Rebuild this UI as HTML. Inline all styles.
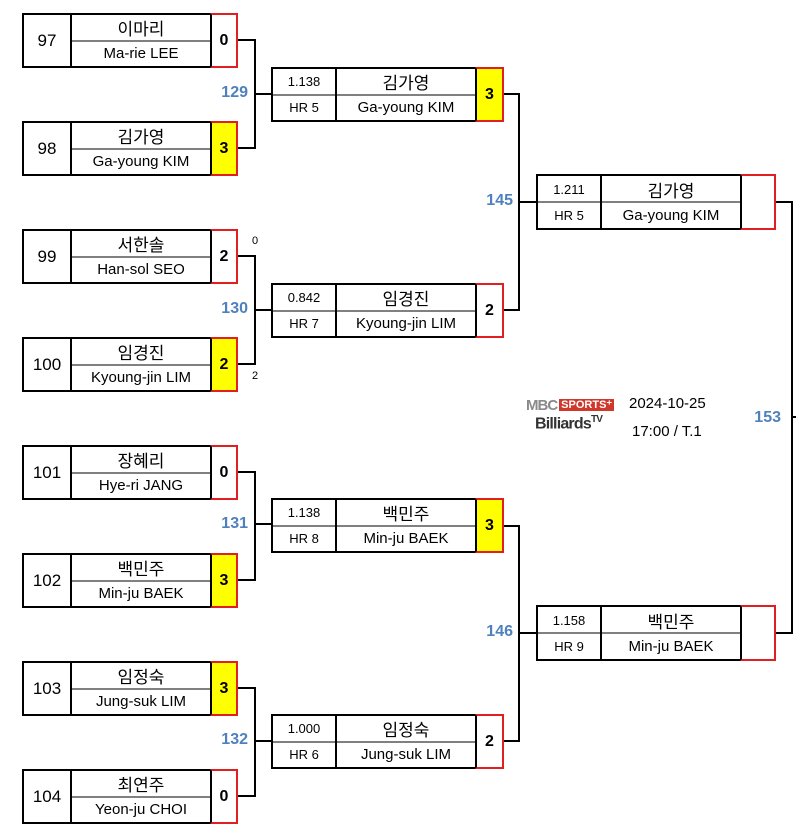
<!DOCTYPE html>
<html><head><meta charset="utf-8"><style>
*{box-sizing:border-box;margin:0;padding:0}
body{width:796px;height:827px;background:#fff;position:relative;overflow:hidden;font-family:"Liberation Sans","Noto Sans CJK KR",sans-serif;color:#000}
.a{position:absolute}
.box{position:absolute;border:2px solid #000;background:#fff}
.num{position:absolute;left:0;top:0;bottom:0;width:48px;border-right:2px solid #000;display:flex;align-items:center;justify-content:center;font-size:17px}
.nm{position:absolute;top:0;bottom:0;right:0;}
.nm .k,.nm .e,.st .k,.st .e{position:absolute;left:0;right:0;height:50%;display:flex;align-items:center;justify-content:center}
.k{top:0;font-size:17px}
.e{bottom:0;font-size:15px}
.div{position:absolute;left:0;right:0;top:50%;height:2px;margin-top:-1px;background:#808080}
.st{position:absolute;left:0;top:0;bottom:0;width:64px;border-right:2px solid #000}
.st .k,.st .e{font-size:13px}
.sc{position:absolute;border:2px solid #e02020;border-left:none;display:flex;align-items:center;justify-content:center;font-weight:bold;font-size:16px}
.y{background:#ffff00}
.h{position:absolute;height:2px;background:#000}
.v{position:absolute;width:2px;background:#000}
.lb{position:absolute;color:#4f81bd;font-weight:bold;font-size:16px;width:40px;text-align:right}
.sm{position:absolute;font-size:11px}
</style></head><body>

<div class="box" style="left:22px;top:13px;width:190px;height:55px"><div class="num">97</div><div class="nm" style="left:48px"><div class="div"></div><div class="k">이마리</div><div class="e">Ma-rie LEE</div></div></div>
<div class="sc" style="left:210px;top:13px;width:28px;height:55px;border-left:2px solid #000">0</div>

<div class="box" style="left:22px;top:121px;width:190px;height:55px"><div class="num">98</div><div class="nm" style="left:48px"><div class="div"></div><div class="k">김가영</div><div class="e">Ga-young KIM</div></div></div>
<div class="sc y" style="left:210px;top:121px;width:28px;height:55px;border-left:2px solid #000">3</div>

<div class="box" style="left:22px;top:229px;width:190px;height:55px"><div class="num">99</div><div class="nm" style="left:48px"><div class="div"></div><div class="k">서한솔</div><div class="e">Han-sol SEO</div></div></div>
<div class="sc" style="left:210px;top:229px;width:28px;height:55px;border-left:2px solid #000">2</div>

<div class="box" style="left:22px;top:337px;width:190px;height:55px"><div class="num">100</div><div class="nm" style="left:48px"><div class="div"></div><div class="k">임경진</div><div class="e">Kyoung-jin LIM</div></div></div>
<div class="sc y" style="left:210px;top:337px;width:28px;height:55px;border-left:2px solid #000">2</div>

<div class="box" style="left:22px;top:445px;width:190px;height:55px"><div class="num">101</div><div class="nm" style="left:48px"><div class="div"></div><div class="k">장혜리</div><div class="e">Hye-ri JANG</div></div></div>
<div class="sc" style="left:210px;top:445px;width:28px;height:55px;border-left:2px solid #000">0</div>

<div class="box" style="left:22px;top:553px;width:190px;height:55px"><div class="num">102</div><div class="nm" style="left:48px"><div class="div"></div><div class="k">백민주</div><div class="e">Min-ju BAEK</div></div></div>
<div class="sc y" style="left:210px;top:553px;width:28px;height:55px;border-left:2px solid #000">3</div>

<div class="box" style="left:22px;top:661px;width:190px;height:55px"><div class="num">103</div><div class="nm" style="left:48px"><div class="div"></div><div class="k">임정숙</div><div class="e">Jung-suk LIM</div></div></div>
<div class="sc y" style="left:210px;top:661px;width:28px;height:55px;border-left:2px solid #000">3</div>

<div class="box" style="left:22px;top:769px;width:190px;height:55px"><div class="num">104</div><div class="nm" style="left:48px"><div class="div"></div><div class="k">최연주</div><div class="e">Yeon-ju CHOI</div></div></div>
<div class="sc" style="left:210px;top:769px;width:28px;height:55px;border-left:2px solid #000">0</div>

<div class="h" style="left:238px;top:39px;width:18px"></div><div class="h" style="left:238px;top:147px;width:18px"></div><div class="v" style="left:254px;top:39px;height:110px"></div><div class="h" style="left:254px;top:93px;width:18px"></div>
<div class="h" style="left:238px;top:255px;width:18px"></div><div class="h" style="left:238px;top:363px;width:18px"></div><div class="v" style="left:254px;top:255px;height:110px"></div><div class="h" style="left:254px;top:309px;width:18px"></div>
<div class="h" style="left:238px;top:471px;width:18px"></div><div class="h" style="left:238px;top:579px;width:18px"></div><div class="v" style="left:254px;top:471px;height:110px"></div><div class="h" style="left:254px;top:523px;width:18px"></div>
<div class="h" style="left:238px;top:687px;width:18px"></div><div class="h" style="left:238px;top:795px;width:18px"></div><div class="v" style="left:254px;top:687px;height:110px"></div><div class="h" style="left:254px;top:740px;width:18px"></div>

<div class="lb" style="left:208px;top:84px">129</div>
<div class="lb" style="left:208px;top:300px">130</div>
<div class="lb" style="left:208px;top:515px">131</div>
<div class="lb" style="left:208px;top:731px">132</div>
<div class="sm" style="left:252px;top:235px">0</div>
<div class="sm" style="left:252px;top:370px">2</div>

<div class="box" style="left:271px;top:67px;width:206px;height:55px"><div class="div"></div><div class="st"><div class="k">1.138</div><div class="e">HR 5</div></div><div class="nm" style="left:64px"><div class="k">김가영</div><div class="e">Ga-young KIM</div></div></div>
<div class="sc y" style="left:475px;top:67px;width:29px;height:55px;border-left:2px solid #000">3</div>

<div class="box" style="left:271px;top:283px;width:206px;height:55px"><div class="div"></div><div class="st"><div class="k">0.842</div><div class="e">HR 7</div></div><div class="nm" style="left:64px"><div class="k">임경진</div><div class="e">Kyoung-jin LIM</div></div></div>
<div class="sc" style="left:475px;top:283px;width:29px;height:55px;border-left:2px solid #000">2</div>

<div class="box" style="left:271px;top:498px;width:206px;height:55px"><div class="div"></div><div class="st"><div class="k">1.138</div><div class="e">HR 8</div></div><div class="nm" style="left:64px"><div class="k">백민주</div><div class="e">Min-ju BAEK</div></div></div>
<div class="sc y" style="left:475px;top:498px;width:29px;height:55px;border-left:2px solid #000">3</div>

<div class="box" style="left:271px;top:714px;width:206px;height:55px"><div class="div"></div><div class="st"><div class="k">1.000</div><div class="e">HR 6</div></div><div class="nm" style="left:64px"><div class="k">임정숙</div><div class="e">Jung-suk LIM</div></div></div>
<div class="sc" style="left:475px;top:714px;width:29px;height:55px;border-left:2px solid #000">2</div>

<div class="h" style="left:504px;top:93px;width:16px"></div><div class="h" style="left:504px;top:309px;width:16px"></div><div class="v" style="left:518px;top:93px;height:218px"></div><div class="h" style="left:518px;top:201px;width:19px"></div>
<div class="h" style="left:504px;top:525px;width:16px"></div><div class="h" style="left:504px;top:740px;width:16px"></div><div class="v" style="left:518px;top:525px;height:217px"></div><div class="h" style="left:518px;top:632px;width:19px"></div>
<div class="lb" style="left:473px;top:192px">145</div>
<div class="lb" style="left:473px;top:623px">146</div>

<div class="box" style="left:536px;top:174px;width:206px;height:56px"><div class="div"></div><div class="st"><div class="k">1.211</div><div class="e">HR 5</div></div><div class="nm" style="left:64px"><div class="k">김가영</div><div class="e">Ga-young KIM</div></div></div>
<div class="sc" style="left:740px;top:174px;width:36px;height:56px;border-left:2px solid #000"></div>
<div class="box" style="left:536px;top:605px;width:206px;height:56px"><div class="div"></div><div class="st"><div class="k">1.158</div><div class="e">HR 9</div></div><div class="nm" style="left:64px"><div class="k">백민주</div><div class="e">Min-ju BAEK</div></div></div>
<div class="sc" style="left:740px;top:605px;width:36px;height:56px;border-left:2px solid #000"></div>

<div class="h" style="left:776px;top:201px;width:17px"></div><div class="h" style="left:776px;top:632px;width:17px"></div><div class="v" style="left:791px;top:201px;height:433px"></div><div class="h" style="left:791px;top:416px;width:5px"></div>
<div class="lb" style="left:741px;top:409px">153</div>

<div class="a" style="left:526px;top:398px;width:92px;height:16px;font-weight:bold;font-size:15px;line-height:15px;white-space:nowrap">
<span style="color:#8a8a8a;letter-spacing:-1px">MBC</span><span style="background:#d0382c;color:#fff;font-size:11px;padding:0 2px;margin-left:2px;vertical-align:top">SPORTS⁺</span></div>
<div class="a" style="left:535px;top:414px;font-weight:bold;font-size:16px;color:#333;letter-spacing:-0.8px">Billiards<sup style="font-size:10px">TV</sup></div>
<div class="a" style="left:629px;top:395px;font-size:15px">2024-10-25</div>
<div class="a" style="left:632px;top:423px;font-size:15px">17:00 / T.1</div>
</body></html>
